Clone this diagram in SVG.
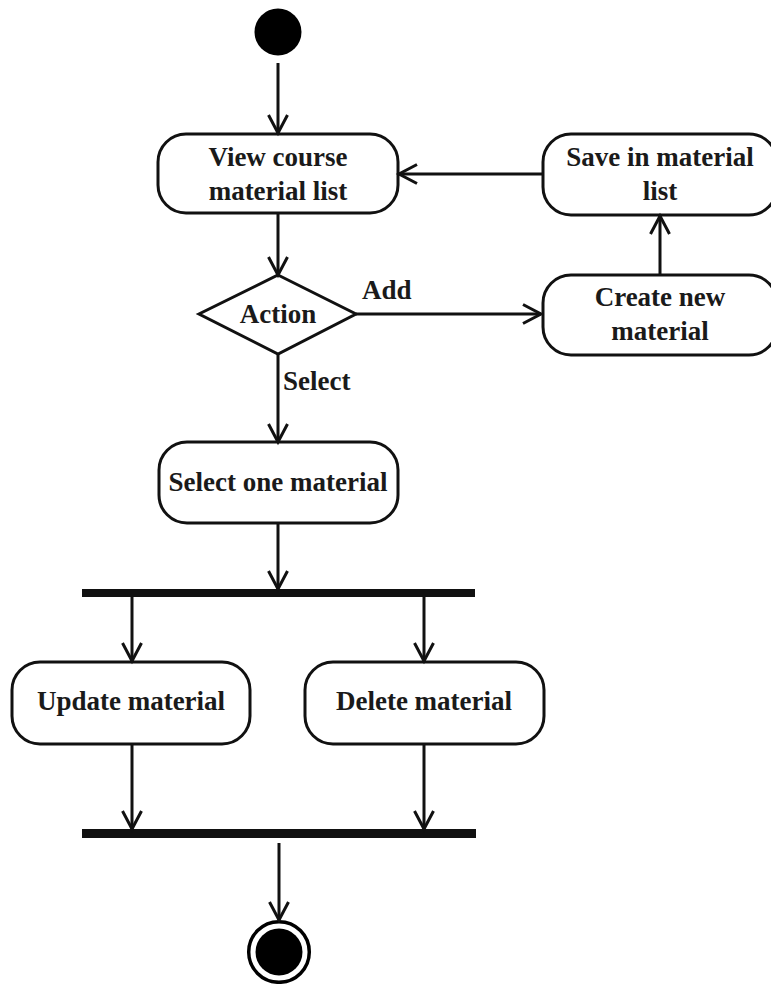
<svg xmlns="http://www.w3.org/2000/svg" width="771" height="984" viewBox="0 0 771 984">
  <style>
    .act { fill: #ffffff; stroke: #111111; stroke-width: 3; }
    .bar { fill: #111111; }
    .lbl { font-family: "Liberation Serif", "Times New Roman", serif; font-weight: bold; font-size: 27px; fill: #1a1a1a; text-anchor: middle; }
    .edge-lbl { text-anchor: start; }
    .flow { fill: none; stroke: #111111; stroke-width: 3; marker-end: url(#arrow); }
  </style>
  <defs>
    <marker id="arrow" markerWidth="24" markerHeight="24" viewBox="-20 -12 24 24" refX="0" refY="0" orient="auto" markerUnits="userSpaceOnUse">
      <path d="M -18 -9.5 L 0 0 L -18 9.5" fill="none" stroke="#111111" stroke-width="3" stroke-linejoin="miter"/>
    </marker>
  </defs>
  <rect width="771" height="984" fill="#ffffff"/>

  <!-- initial state -->
  <g id="start">
    <circle cx="278" cy="32" r="23.5" fill="#000000"/>
  </g>

  <g id="view-list">
    <rect class="act" x="158" y="134" width="240" height="79" rx="28" ry="28"/>
    <text class="lbl" x="278" y="166">View course</text>
    <text class="lbl" x="278" y="200">material list</text>
  </g>

  <g id="save-list">
    <rect class="act" x="543" y="134" width="234" height="81" rx="28" ry="28"/>
    <text class="lbl" x="660" y="166">Save in material</text>
    <text class="lbl" x="660" y="200">list</text>
  </g>

  <g id="action-decision">
    <polygon class="act" points="278,275 356,314 278,354 199,314"/>
    <text class="lbl" x="278" y="323">Action</text>
  </g>

  <g id="create-material">
    <rect class="act" x="543" y="275" width="234" height="80" rx="28" ry="28"/>
    <text class="lbl" x="660" y="306">Create new</text>
    <text class="lbl" x="660" y="340">material</text>
  </g>

  <g id="select-material">
    <rect class="act" x="159" y="442" width="239" height="81" rx="28" ry="28"/>
    <text class="lbl" x="278" y="491">Select one material</text>
  </g>

  <g id="fork">
    <rect class="bar" x="82" y="589" width="393" height="8"/>
  </g>

  <g id="update-material">
    <rect class="act" x="12" y="662" width="238" height="82" rx="28" ry="28"/>
    <text class="lbl" x="131" y="710">Update material</text>
  </g>

  <g id="delete-material">
    <rect class="act" x="305" y="662" width="239" height="82" rx="28" ry="28"/>
    <text class="lbl" x="424" y="710">Delete material</text>
  </g>

  <g id="join">
    <rect class="bar" x="82" y="829" width="394" height="9"/>
  </g>

  <!-- final state -->
  <g id="end">
    <circle cx="279" cy="952" r="30.3" fill="#ffffff" stroke="#000000" stroke-width="3.5"/>
    <circle cx="279" cy="952" r="23.5" fill="#000000"/>
  </g>

  <g id="connectors">
    <path class="flow" d="M 278 63 L 278 133"/>
    <path class="flow" d="M 278 213 L 278 275"/>
    <path class="flow" d="M 356 314 L 541 314"/>
    <path class="flow" d="M 660 275 L 660 216"/>
    <path class="flow" d="M 543 174 L 399 174"/>
    <path class="flow" d="M 278 354 L 278 442"/>
    <path class="flow" d="M 278 523 L 278 589"/>
    <path class="flow" d="M 132 597 L 132 661"/>
    <path class="flow" d="M 424 597 L 424 661"/>
    <path class="flow" d="M 132 744 L 132 829"/>
    <path class="flow" d="M 424 744 L 424 829"/>
    <path class="flow" d="M 279 843 L 279 920"/>
    <text class="lbl edge-lbl" x="362" y="299">Add</text>
    <text class="lbl edge-lbl" x="283" y="390">Select</text>
  </g>
</svg>
